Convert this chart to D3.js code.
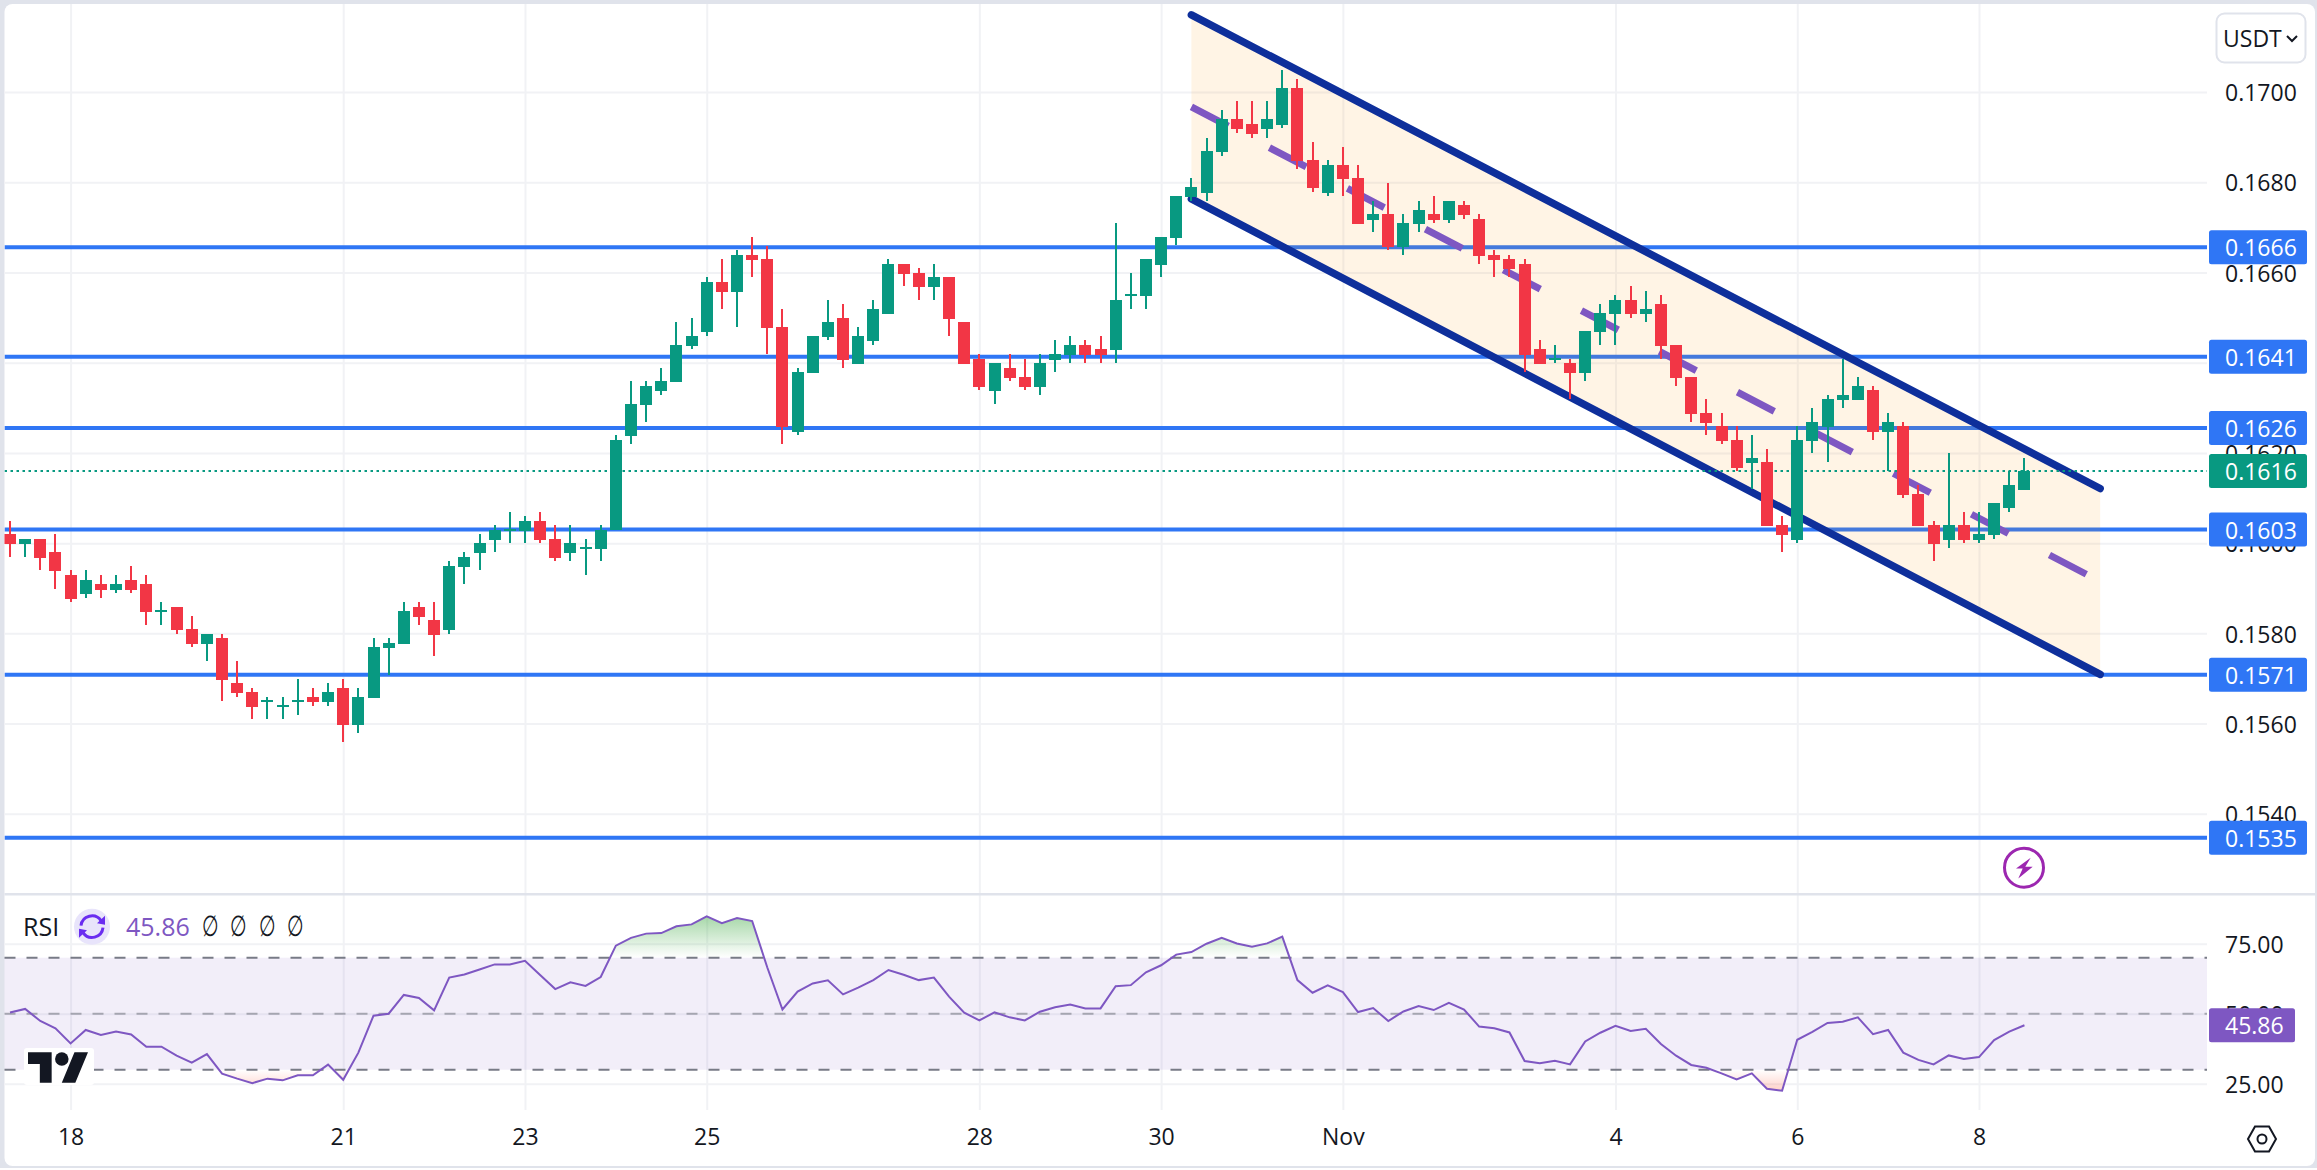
<!DOCTYPE html>
<html>
<head>
<meta charset="utf-8">
<script src="https://cdn.jsdelivr.net/npm/d3@7/dist/d3.min.js"></script>
<style>
html,body{margin:0;padding:0;background:#fff;overflow:hidden}
svg{display:block}
text{font-family:"Open Sans","Noto Sans",sans-serif}
</style>
</head>
<body>
<svg id="c" width="2317" height="1170"></svg>
<script>
// ---- data (candle prices in units of 0.00001) ----
const opens=[16020,15998,16009,15980,15929,15887,15910,15896,15918,15910,
15847,15858,15810,15777,15790,15690,15670,15647,15636,15647,
15659,15647,15679,15597,15657,15768,15777,15858,15830,15807,
15947,15978,16007,16027,16027,16049,16009,15978,15987,15987,
16028,16237,16306,16337,16357,16437,16468,16579,16557,16639,
16630,16479,16246,16377,16457,16499,16397,16448,16508,16619,
16599,16568,16590,16490,16408,16337,16388,16368,16346,16406,
16417,16439,16430,16428,16548,16548,16617,16676,16767,16776,
16867,16940,16929,16918,16927,17009,16849,16776,16838,16809,
16716,16730,16656,16707,16730,16716,16750,16718,16639,16630,
16619,16430,16406,16399,16377,16468,16508,16539,16508,16530,
16439,16368,16288,16260,16229,16178,16180,16040,16007,16226,
16257,16317,16317,16340,16246,16260,16109,16040,16007,16040,
16007,16018,16078,16118];
const closes=[15998,16009,15967,15938,15876,15918,15896,15910,15896,15847,
15852,15807,15777,15799,15697,15668,15636,15652,15641,15652,
15647,15670,15597,15659,15769,15779,15849,15836,15796,15949,
15969,16001,16029,16031,16049,16007,15967,16001,15992,16029,
16229,16308,16348,16359,16439,16459,16579,16557,16639,16628,
16477,16257,16379,16459,16490,16406,16459,16519,16619,16597,
16568,16590,16497,16397,16346,16399,16366,16346,16399,16419,
16439,16417,16417,16539,16552,16630,16679,16770,16789,16869,
16940,16918,16907,16940,17009,16847,16787,16838,16807,16707,
16730,16656,16710,16738,16716,16758,16727,16636,16628,16608,
16417,16397,16410,16377,16470,16510,16539,16508,16519,16437,
16366,16286,16266,16226,16167,16189,16038,16018,16229,16269,
16320,16328,16348,16246,16269,16107,16038,15998,16040,16007,
16020,16089,16129,16160];
const highs=[16049,16009,16009,16020,15940,15940,15929,15929,15949,15929,
15869,15858,15838,15799,15799,15738,15679,15659,15659,15699,
15679,15690,15699,15679,15790,15790,15869,15869,15869,15960,
15980,16020,16040,16069,16060,16069,16040,16040,16009,16040,
16239,16359,16359,16388,16490,16499,16590,16630,16650,16679,
16659,16519,16388,16459,16539,16530,16479,16539,16630,16619,
16610,16619,16590,16490,16419,16399,16419,16408,16419,16450,
16459,16450,16459,16710,16599,16630,16679,16770,16809,16898,
16960,16980,16980,16980,17049,17029,16889,16849,16878,16838,
16758,16798,16730,16758,16769,16758,16758,16730,16650,16639,
16630,16450,16439,16408,16470,16530,16550,16570,16559,16550,
16439,16368,16320,16288,16260,16240,16209,16060,16260,16300,
16328,16408,16368,16348,16288,16269,16129,16049,16200,16069,
16069,16089,16160,16189];
const lows=[15969,15969,15940,15898,15869,15879,15879,15890,15890,15818,
15818,15799,15769,15738,15650,15659,15610,15610,15610,15619,
15639,15639,15559,15579,15657,15708,15777,15818,15750,15799,
15910,15940,15980,16001,16001,16001,15960,15960,15929,15960,
16028,16220,16268,16328,16357,16430,16459,16519,16479,16590,
16419,16220,16240,16377,16450,16388,16397,16439,16508,16570,
16539,16539,16459,16397,16339,16308,16359,16339,16328,16379,
16399,16399,16399,16399,16519,16519,16590,16661,16758,16758,
16858,16909,16898,16898,16920,16829,16778,16769,16769,16707,
16690,16650,16639,16690,16710,16710,16718,16619,16590,16590,
16379,16397,16399,16319,16359,16439,16439,16499,16490,16408,
16348,16269,16240,16220,16160,16120,16038,15980,16000,16200,
16180,16300,16317,16229,16160,16100,16038,15960,15989,16000,
16000,16009,16069,16118];
const rsiValues=[50.4,51.7,47.4,44.8,39.4,44.2,42.4,43.6,42.6,38.2,
38.2,35.0,32.5,35.6,28.6,26.8,25.2,26.8,26.2,28.0,
28.0,31.8,26.4,36.1,49.3,50.0,56.7,55.6,51.2,62.9,
64.0,65.8,67.6,67.6,68.9,63.8,58.8,61.2,59.9,63.1,
74.3,77.1,78.6,78.8,81.2,81.9,84.8,82.3,84.2,83.1,
66.5,51.5,57.9,60.8,61.9,56.9,59.3,62.0,65.6,63.9,
62.0,62.9,56.1,50.4,47.6,50.5,48.7,47.6,50.7,52.3,
53.3,51.9,51.9,59.8,60.2,64.8,67.3,71.1,72.0,75.0,
77.1,75.1,73.9,75.1,77.5,62.0,57.5,60.1,57.7,50.6,
52.0,47.4,50.8,52.7,51.3,53.9,51.5,45.4,44.8,43.3,
33.1,32.3,33.2,31.9,40.1,43.2,45.7,43.8,44.6,39.2,
35.0,31.7,30.7,28.7,26.5,28.7,23.2,22.5,40.7,43.5,
46.7,47.1,48.7,42.7,44.2,36.1,33.5,31.9,35.1,33.8,
34.5,40.6,43.6,45.86];
const dateIndex=[4,22,34,46,64,76,88,106,118,130];
const dateLabels=["18","21","23","25","28","30","Nov","4","6","8"];
const priceTicks=[0.17,0.168,0.166,0.164,0.162,0.16,0.158,0.156,0.154];
const rsiTicks=[75,50,25];
const rsiBands=[70,50,30];
const levelValues=[0.16656,0.16413,0.16255,0.16030,0.15708,0.15347];
const levelLabels=["0.1666","0.1641","0.1626","0.1603","0.1571","0.1535"];
const lastPrice=0.1616, lastPriceLabel="0.1616";
const lastRsi=45.86, lastRsiLabel="45.86";
const channelIndex=[78,138];
const channelUpper=[0.17171,0.16121];
const channelLower=[0.16763,0.15709];
const channelMid=[0.16967,0.15915];

// ---- palette / layout ----
const UP="#089981",DOWN="#f23645",BLUE="#2f76f5",GRID="#f1f2f5",TXT="#131722",
      PURPLE="#7e57c2",EDGE="#e0e3eb",NAVY="#0e2f9b";
const L=4.5,R=2207,FONT=23;

const svg=d3.select("#c");
const x=d3.scaleLinear().domain([0,130]).range([10,1979]);
const y=d3.scaleLinear().domain([0.17,0.154]).range([92,813.8]);
const yR=d3.scaleLinear().domain([50,25]).range([1013.7,1083.7]);
const candles=opens.map((o,i)=>({i,o:o/1e5,c:closes[i]/1e5,h:highs[i]/1e5,l:lows[i]/1e5}));

// frame
svg.append("rect").attr("width",2317).attr("height",1170).attr("fill",EDGE);
svg.append("rect").attr("x",L).attr("y",4).attr("width",2315-L).attr("height",1162).attr("rx",8).attr("fill","#fff");
svg.append("rect").attr("x",0).attr("y",1168).attr("width",2317).attr("height",2).attr("fill","#fff");

const defs=svg.append("defs");
defs.append("clipPath").attr("id","plot").append("rect").attr("x",L).attr("y",4).attr("width",R-L).attr("height",890);
defs.append("clipPath").attr("id","over").append("rect").attr("x",L).attr("y",895).attr("width",R-L).attr("height",yR(70)-895);
defs.append("clipPath").attr("id","under").append("rect").attr("x",L).attr("y",yR(30)).attr("width",R-L).attr("height",1110-yR(30));
const g1=defs.append("linearGradient").attr("id","gOver").attr("gradientUnits","userSpaceOnUse").attr("x1",0).attr("x2",0).attr("y1",yR(85)).attr("y2",yR(70));
g1.append("stop").attr("offset",0).attr("stop-color","#4caf50").attr("stop-opacity",.5);
g1.append("stop").attr("offset",1).attr("stop-color","#4caf50").attr("stop-opacity",0);
const g2=defs.append("linearGradient").attr("id","gUnder").attr("gradientUnits","userSpaceOnUse").attr("x1",0).attr("x2",0).attr("y1",yR(22)).attr("y2",yR(30));
g2.append("stop").attr("offset",0).attr("stop-color","#ff5a3c").attr("stop-opacity",.3);
g2.append("stop").attr("offset",1).attr("stop-color","#ff5a3c").attr("stop-opacity",0);

// grid via axes
function styleGrid(g){g.select(".domain").remove();g.selectAll("text").remove();
  g.selectAll("line").attr("stroke",GRID).attr("stroke-width",2);}
svg.append("g").attr("transform",`translate(${R},0)`)
  .call(d3.axisLeft(y).tickValues(priceTicks).tickSize(R-L)).call(styleGrid);
svg.append("g").attr("transform",`translate(${R},0)`)
  .call(d3.axisLeft(yR).tickValues(rsiTicks).tickSize(R-L)).call(styleGrid);
svg.append("g").attr("transform","translate(0,4)")
  .call(d3.axisBottom(x).tickValues(dateIndex).tickSize(889)).call(styleGrid);
svg.append("g").attr("transform","translate(0,895)")
  .call(d3.axisBottom(x).tickValues(dateIndex).tickSize(215)).call(styleGrid);

// horizontal levels
const main=svg.append("g").attr("clip-path","url(#plot)");
main.selectAll(".lvl").data(levelValues).join("line")
  .attr("x1",L).attr("x2",R).attr("y1",d=>y(d)).attr("y2",d=>y(d))
  .attr("stroke",BLUE).attr("stroke-width",4);

// channel
const chan=channelIndex.map((c,i)=>({c,u:channelUpper[i],l:channelLower[i],m:channelMid[i]}));
main.append("path").datum(chan)
  .attr("d",d3.area().x(d=>x(d.c)).y0(d=>y(d.l)).y1(d=>y(d.u)))
  .attr("fill","#ff9800").attr("fill-opacity",.1);
main.append("path").datum(chan).attr("d",d3.line().x(d=>x(d.c)).y(d=>y(d.m)))
  .attr("fill","none").attr("stroke",PURPLE).attr("stroke-width",7).attr("stroke-dasharray","41.6 46.4");
["u","l"].forEach(k=>{
  main.append("path").datum(chan).attr("d",d3.line().x(d=>x(d.c)).y(d=>y(d[k])))
    .attr("fill","none").attr("stroke",NAVY).attr("stroke-width",7.5).attr("stroke-linecap","round");
});

// last price dotted line
main.append("line").attr("x1",L).attr("x2",R).attr("y1",y(lastPrice)).attr("y2",y(lastPrice))
  .attr("stroke",UP).attr("stroke-width",2).attr("stroke-dasharray","2.5 3.5");

// candles
const cg=main.selectAll(".cnd").data(candles).join("g").attr("shape-rendering","crispEdges");
cg.append("line").attr("x1",d=>x(d.i)).attr("x2",d=>x(d.i)).attr("y1",d=>y(d.h)).attr("y2",d=>y(d.l))
  .attr("stroke",d=>d.c>=d.o?UP:DOWN).attr("stroke-width",2);
cg.append("rect").attr("x",d=>x(d.i)-6).attr("width",12)
  .attr("y",d=>y(Math.max(d.o,d.c))).attr("height",d=>Math.max(2,Math.abs(y(d.o)-y(d.c))))
  .attr("fill",d=>d.c>=d.o?UP:DOWN);

// bolt icon
const bolt=svg.append("g").attr("transform","translate(2024,867.7)");
bolt.append("circle").attr("r",19.5).attr("fill","#fff").attr("stroke","#9c27b0").attr("stroke-width",3);
bolt.append("path").attr("d","M6.7,-10L-8,0.7L-1.3,0.7L-5.7,10.7L8.7,-1L1.3,-1Z").attr("fill","#9c27b0");

// pane separator
svg.append("rect").attr("x",L).attr("y",893).attr("width",2317-L).attr("height",2.5).attr("fill",EDGE);

// RSI pane
svg.append("rect").attr("x",L).attr("y",yR(70)).attr("width",R-L).attr("height",yR(30)-yR(70))
  .attr("fill",PURPLE).attr("fill-opacity",.1);
rsiBands.forEach(v=>{
  svg.append("line").attr("x1",L).attr("x2",R).attr("y1",yR(v)).attr("y2",yR(v))
    .attr("stroke","#787b86").attr("stroke-opacity",v===50?.6:1).attr("stroke-width",2).attr("stroke-dasharray","11 11");
});
const rsiData=rsiValues.map((v,i)=>({i,v}));
svg.append("g").attr("clip-path","url(#over)").append("path").datum(rsiData)
  .attr("d",d3.area().x(d=>x(d.i)).y0(yR(70)).y1(d=>yR(d.v))).attr("fill","url(#gOver)");
svg.append("g").attr("clip-path","url(#under)").append("path").datum(rsiData)
  .attr("d",d3.area().x(d=>x(d.i)).y0(yR(30)).y1(d=>yR(d.v))).attr("fill","url(#gUnder)");
svg.append("path").datum(rsiData).attr("d",d3.line().x(d=>x(d.i)).y(d=>yR(d.v)))
  .attr("fill","none").attr("stroke",PURPLE).attr("stroke-width",2);

// axis labels via d3 axes
function styleAxis(g){g.select(".domain").remove();g.selectAll("line").remove();
  g.selectAll("text").attr("fill",TXT).attr("font-size",FONT);}
function nudge(g){g.selectAll("text").attr("dy","0.38em");}
svg.append("g").attr("transform",`translate(${R},0)`)
  .call(d3.axisRight(y).tickValues(priceTicks).tickSize(0).tickPadding(18).tickFormat(d3.format(".4f"))).call(styleAxis).call(nudge);
svg.append("g").attr("transform",`translate(${R},0)`)
  .call(d3.axisRight(yR).tickValues(rsiTicks).tickSize(0).tickPadding(18).tickFormat(d3.format(".2f"))).call(styleAxis).call(nudge);
svg.append("g").attr("transform","translate(0,1129)")
  .call(d3.axisBottom(x).tickValues(dateIndex).tickSize(0).tickPadding(0).tickFormat((d,i)=>dateLabels[i])).call(styleAxis);

// value tags
function tag(yy,label,color,w){
  const g=svg.append("g").attr("transform",`translate(2209,${yy})`);
  g.append("rect").attr("x",0).attr("y",-17).attr("width",w).attr("height",34).attr("rx",2.5).attr("fill",color);
  g.append("text").attr("x",16).attr("y",0).attr("dy","0.4em").attr("fill","#fff")
    .attr("font-size",FONT).attr("font-weight",500).text(label);
}
levelValues.forEach((v,i)=>tag(y(v),levelLabels[i],BLUE,98));
tag(y(lastPrice),lastPriceLabel,UP,98);
tag(yR(lastRsi),lastRsiLabel,PURPLE,86);

// USDT button
svg.append("rect").attr("x",2216.5).attr("y",13.5).attr("width",89).attr("height",49).attr("rx",8)
  .attr("fill","#fff").attr("stroke",EDGE).attr("stroke-width",2);
svg.append("text").attr("x",2223).attr("y",46.5).attr("fill",TXT).attr("font-size",23).text("USDT");
svg.append("path").attr("d","M2287,36L2292,41L2297,36").attr("fill","none").attr("stroke",TXT).attr("stroke-width",2);

// settings hexagon
const hex=svg.append("g").attr("transform","translate(2262,1139)").attr("fill","none").attr("stroke",TXT).attr("stroke-width",2);
hex.append("path").attr("d","M-14,0L-7,-12.5L7,-12.5L14,0L7,12.5L-7,12.5Z");
hex.append("circle").attr("r",4.5);

// RSI legend
svg.append("text").attr("x",23).attr("y",936).attr("fill",TXT).attr("font-size",25).text("RSI");
svg.append("circle").attr("cx",92).attr("cy",926.7).attr("r",18).attr("fill","#e8e4fb");
const ref=svg.append("g").attr("transform","translate(92,926.7)");
ref.append("path").attr("d","M-11,-1A11,11 0 0 1 9,-6M11,1A11,11 0 0 1 -9,6")
  .attr("fill","none").attr("stroke","#6a2df0").attr("stroke-width",3);
ref.append("path").attr("d","M13,-11L13,-2L5,-3.5Z M-13,11L-13,2L-5,3.5Z").attr("fill","#6a2df0");
svg.append("text").attr("x",126).attr("y",936).attr("fill",PURPLE).attr("font-size",25).text(lastRsiLabel);
[210,238,267,295].forEach(px=>{
  svg.append("text").attr("transform",`translate(${px},936) scale(0.85,1.3)`)
    .attr("text-anchor","middle").attr("fill",TXT).attr("font-size",22).text("\u2205");
});

// TradingView logo
svg.append("rect").attr("x",24).attr("y",1048).attr("width",70).attr("height",37).attr("rx",3).attr("fill","#fff");
const logo=svg.append("g").attr("transform","translate(28,1045.5) scale(1.69)").attr("fill",TXT);
logo.append("path").attr("d","M14 22H7V11H0V4h14v18zM28 22h-8l7.5-18h8L28 22z");
logo.append("circle").attr("cx",20).attr("cy",8).attr("r",4);
</script>
</body>
</html>
